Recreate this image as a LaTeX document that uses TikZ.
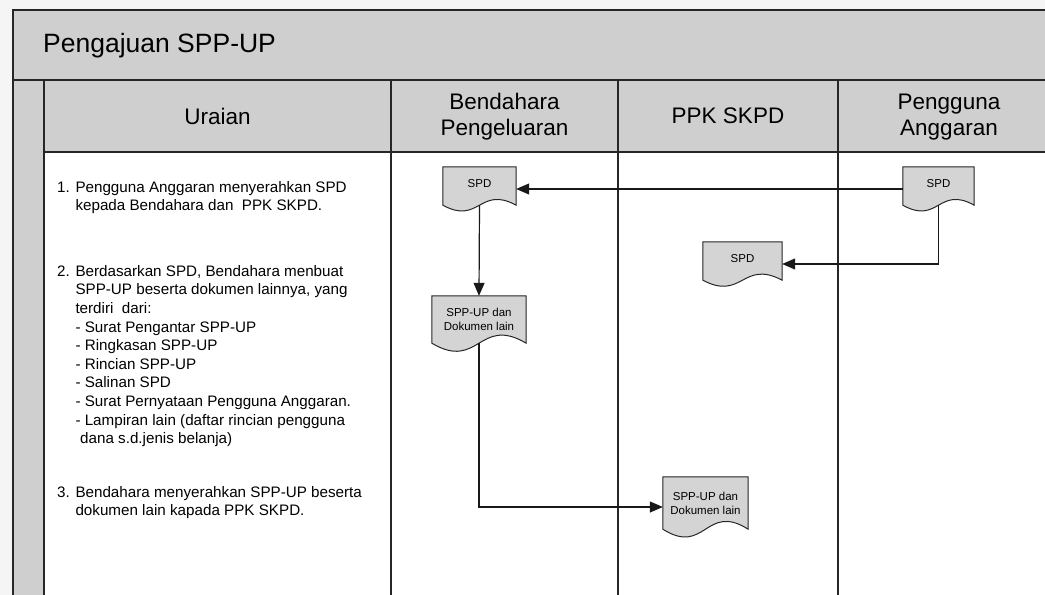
\documentclass[tikz,border=0pt]{standalone}
\usepackage{fontspec}
\setmainfont{Liberation Sans}
\usetikzlibrary{arrows.meta,calc}
\pgfdeclarelayer{frame}
\pgfdeclarelayer{docs}
\pgfsetlayers{frame,docs,main}

% outline of a flowchart "document" symbol around a named node
\newcommand\docoutline[2]{%
  \begin{pgfonlayer}{docs}
  \path[docshape] (#1.south west) -- (#1.north west) -- (#1.north east) -- (#1.south east)
    .. controls ($(#1.south east)!0.5!(#1.south west)+(0,-#2)$)
       and ($(#1.south east)!0.5!(#1.south west)+(0,#2)$) .. (#1.south west) -- cycle;
  \end{pgfonlayer}}

\begin{document}
\begin{tikzpicture}[x=1bp,y=-1bp,
  band/.style={fill=black!19},
  frameline/.style={draw=black!85,line width=1.8bp},
  colline/.style={draw=black!85,line width=1.5bp},
  docshape/.style={fill=black!17,draw=black!85,line width=1bp},
  doc/.style={draw=none,inner sep=0pt,align=center,font=\fontsize{11.5bp}{14bp}\selectfont},
  head/.style={inner sep=0pt,align=center,font=\fontsize{22.5bp}{26bp}\selectfont},
  titletext/.style={inner sep=0pt,font=\fontsize{26.5bp}{30bp}\selectfont},
  item/.style={inner sep=0pt,align=left,anchor=north west,font=\fontsize{15.2bp}{18.6bp}\selectfont},
  conn/.style={draw=black!90,line width=1.2bp,-{Triangle[length=13bp,width=11bp]}}]
\useasboundingbox (0,0) rectangle (1045,595);

% swimlane frame
\begin{pgfonlayer}{frame}
  \fill[black!4] (0,0) rectangle (1045,595);
  \fill[band] (13,10) rectangle (1056,606);
  \fill[white] (44,152) rectangle (1056,606);
  \draw[frameline] (1056,10) -- (13,10) -- (13,606);
  \draw[frameline] (13,80) -- (1056,80);
  \draw[frameline] (44,80) -- (44,606);
  \draw[frameline] (44,152) -- (1056,152);
  \foreach \x in {391,618,838} \draw[colline] (\x,80) -- (\x,606);
\end{pgfonlayer}

% title and lane headers
\node[titletext,anchor=base west] (title) at (43,53) {Pengajuan SPP-UP};
\node[head] (hUraian) at (217.5,116) {Uraian};
\node[head] (hBend) at (504.5,117) {Bendahara\\Pengeluaran};
\node[head] (hPPK) at (728,116) {PPK SKPD};
\node[head] (hPA) at (949,117) {Pengguna\\Anggaran};

% description column
\node[item] (step1) at (57,181) {1. Pengguna Anggaran menyerahkan SPD\\
\phantom{1. }kepada Bendahara dan\ \ PPK SKPD.};
\node[item] (step2) at (57,265) {2. Berdasarkan SPD, Bendahara menbuat\\
\phantom{2. }SPP-UP beserta dokumen lainnya, yang\\
\phantom{2. }terdiri\ \ dari:\\
\phantom{2. }- Surat Pengantar SPP-UP\\
\phantom{2. }- Ringkasan SPP-UP\\
\phantom{2. }- Rincian SPP-UP\\
\phantom{2. }- Salinan SPD\\
\phantom{2. }- Surat Pernyataan Pengguna Anggaran.\\
\phantom{2. }- Lampiran lain (daftar rincian pengguna\\
\hspace*{23bp}dana s.d.jenis belanja)};
\node[item] (step3) at (57,486) {3. Bendahara menyerahkan SPP-UP beserta\\
\phantom{3. }dokumen lain kapada PPK SKPD.};

% documents
\node[doc,minimum width=73bp,minimum height=38bp,text depth=6bp] (spdB) at (479.5,186) {SPD};
\node[doc,minimum width=71bp,minimum height=38bp,text depth=6bp] (spdR) at (938.5,186) {SPD};
\node[doc,minimum width=79bp,minimum height=38bp,text depth=6bp] (spdP) at (742.5,261) {SPD};
\node[doc,minimum width=94bp,minimum height=47bp] (sppB) at (479,319.5) {SPP-UP dan\\Dokumen lain};
\node[doc,minimum width=85bp,minimum height=52bp] (sppP) at (705.5,503) {SPP-UP dan\\Dokumen lain};
\docoutline{spdB}{20}
\docoutline{spdR}{20}
\docoutline{spdP}{21}
\docoutline{sppB}{28}
\docoutline{sppP}{27}

% flow
\draw[conn] ([yshift=-3bp]spdR.west) -- ([yshift=-3bp]spdB.east);
\draw[conn] (spdB.south) -- (sppB.north);
\draw[conn] (spdR.south) |- ([yshift=-3bp]spdP.east);
\draw[conn] (sppB.south) |- ([yshift=-4bp]sppP.west);
\end{tikzpicture}
\end{document}
